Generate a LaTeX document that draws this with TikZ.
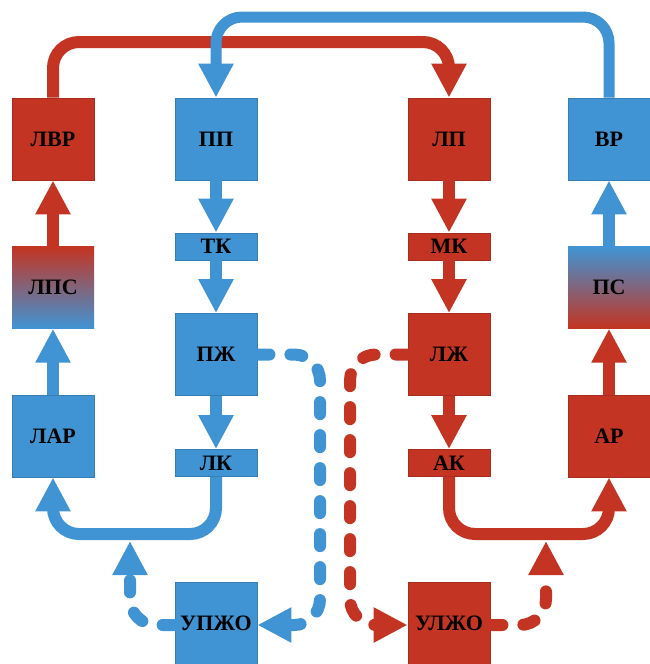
\documentclass[tikz,border=0pt]{standalone}
\usepackage{fontspec}
\setmainfont{Liberation Serif}
\usetikzlibrary{arrows.meta}

\definecolor{artred}{RGB}{196,52,34}
\definecolor{venblue}{RGB}{64,148,212}

\tikzset{
  chamber/.style={minimum width=82pt, minimum height=82pt, inner sep=0pt,
    font=\fontsize{22}{22}\selectfont\bfseries, draw=#1!85!black, line width=0.8pt, fill=#1},
  valve/.style={chamber=#1, minimum height=27pt},
  mixed/.style={minimum width=82pt, minimum height=82pt, inner sep=0pt,
    font=\fontsize{22}{22}\selectfont\bfseries},
  flow/.style={draw=#1, line width=12pt, rounded corners=26pt, -{Triangle[width=33pt,length=34pt]}},
  dashflow/.style={flow=#1, dash pattern=on 12pt off 21pt, line cap=round}
}

\begin{document}
\begin{tikzpicture}[x=1pt, y=-1pt]
  \useasboundingbox[fill=white] (0,0) rectangle (650,664);

  % Top row
  \node[chamber=artred] (lvr) at (53,139) {ЛВР};
  \node[chamber=venblue] (pp) at (216,139) {ПП};
  \node[chamber=artred] (lp) at (449,139) {ЛП};
  \node[chamber=venblue] (vr) at (609,139) {ВР};

  % Valves
  \node[valve=venblue] (tk) at (216,246.5) {ТК};
  \node[valve=artred] (mk) at (449,246.5) {МК};
  \node[valve=venblue] (lk) at (216,463) {ЛК};
  \node[valve=artred] (ak) at (449,463) {АК};

  % Middle row
  \node[mixed, top color=artred, bottom color=venblue] (lps) at (53,287.5) {ЛПС};
  \node[mixed, top color=venblue, bottom color=artred] (ps) at (609,287.5) {ПС};
  \node[chamber=venblue] (pzh) at (216,354.5) {ПЖ};
  \node[chamber=artred] (lzh) at (449,354.5) {ЛЖ};
  \node[chamber=venblue] (lar) at (53,436) {ЛАР};
  \node[chamber=artred] (ar) at (609,436) {АР};

  % Bottom row
  \node[chamber=venblue] (upzho) at (216,623.5) {УПЖО};
  \node[chamber=artred] (ulzho) at (449,623.5) {УЛЖО};

  % Long loops over the top
  \draw[flow=artred] (lvr.north) -- (53,42) -- (449,42) -- (lp.north);
  \draw[flow=venblue, line width=11pt] (vr.north) -- (609,17) -- (216,17) -- (pp.north);

  % Straight steps
  \draw[flow=venblue] (pp) -- (tk);
  \draw[flow=venblue] (tk) -- (pzh);
  \draw[flow=venblue] (pzh) -- (lk);
  \draw[flow=artred] (lp) -- (mk);
  \draw[flow=artred] (mk) -- (lzh);
  \draw[flow=artred] (lzh) -- (ak);
  \draw[flow=artred] (lps) -- (lvr);
  \draw[flow=venblue] (lar) -- (lps);
  \draw[flow=venblue] (ps) -- (vr);
  \draw[flow=artred] (ar) -- (ps);

  % Lower loops
  \draw[flow=venblue] (lk.south) -- (216,534) -- (53,534) -- (lar.south);
  \draw[flow=artred] (ak.south) -- (449,534) -- (609,534) -- (ar.south);

  % Dashed branches
  \draw[dashflow=venblue] (pzh.east) -- (320,354.5) -- (320,625) -- (upzho.east |- 0,625);
  \draw[dashflow=venblue] (upzho.west |- 0,625) -- (130,625) -- (130,541);
  \draw[dashflow=artred] (lzh.west) -- (350,354.5) -- (350,625) -- (ulzho.west |- 0,625);
  \draw[dashflow=artred] (ulzho.east |- 0,625) -- (546,625) -- (546,541);
\end{tikzpicture}
\end{document}
